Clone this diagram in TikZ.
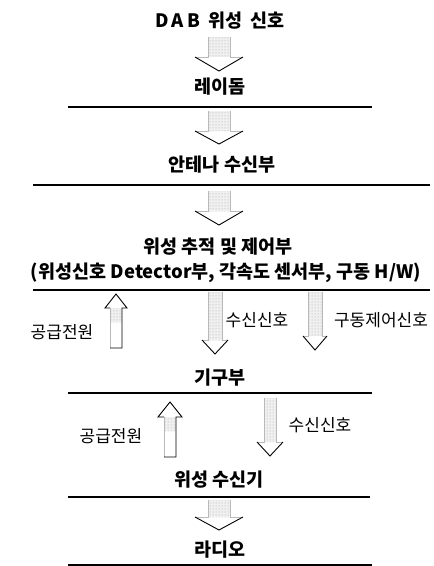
\documentclass[tikz,border=0pt]{standalone}
\usepackage{fontspec}
\setmainfont{Noto Sans CJK KR}
\usetikzlibrary{patterns}
\newcommand{\DnBlk}[7]{% name, cx, top, headtop, tip, shaft half width, head half width
  \coordinate (#1) at (#2,#5);
  \fill[gray!12] (#2-#6,#3) rectangle (#2+#6,#4);
  \fill[pattern=dots, pattern color=gray!70] (#2-#6,#3) rectangle (#2+#6,#4);
  \draw[blkfaint] (#2-#6,#3) -- (#2-#6,#4) -- (#2-#7,#4);
  \draw[blkfaint] (#2+#6,#3) -- (#2+#6,#4) -- (#2+#7,#4);
  \draw[blkedge] (#2-#7,#4) -- (#1) -- (#2+#7,#4);
}
\newcommand{\UpBlk}[7]{% name, cx, tip, headbase, bottom, shaft half width, head half width
  \coordinate (#1) at (#2,#3);
  \fill[gray!12] (#2-#6,#4) rectangle (#2+#6,#4+14);
  \fill[pattern=dots, pattern color=gray!70] (#2-#6,#4) rectangle (#2+#6,#4+14);
  \draw[blkfaint] (#2-#6,#4) -- (#2-#6,#5);
  \draw[blkedge] (#2-#6,#4) -- (#2-#7,#4) -- (#1) -- (#2+#7,#4) -- (#2+#6,#4) -- (#2+#6,#5) -- (#2-#6,#5);
}
\begin{document}
\begin{tikzpicture}[x=1pt,y=-1pt,
  head/.style={font=\fontsize{18.5}{21}\selectfont\bfseries, inner sep=0pt},
  lbl/.style={font=\fontsize{17}{20}\selectfont, inner sep=0pt},
  rule/.style={line width=1.1pt},
  blkfaint/.style={gray!55, line width=0.5pt},
  blkedge/.style={black, line width=0.9pt, line join=miter}]
\useasboundingbox (0,0) rectangle (434,566);
\fill[white] (0,0) rectangle (434,566);

% headings
\node[head] (dab) at (220,21) {D\,A\,B\hspace{0.45em}위성\hspace{0.45em}신호};
\node[head] (radome) at (220,87) {레이돔};
\node[head] (ant) at (222,165) {안테나 수신부};
\node[head] (track) at (218,247) {위성 추적 및 제어부};
\node[head] (track2) at (226,273) {(위성신호 Detector부, 각속도 센서부, 구동 H/W)};
\node[head] (mech) at (220,378) {기구부};
\node[head] (recv) at (219,480) {위성 수신기};
\node[head] (radio) at (220,550) {라디오};

% rules
\draw[rule] (68,107) coordinate (r1a) -- (372,107) coordinate (r1b);
\draw[rule] (33,185) coordinate (r2a) -- (430,185) coordinate (r2b);
\draw[rule] (33,290) coordinate (r3a) -- (430,290) coordinate (r3b);
\draw[rule] (68,393) coordinate (r4a) -- (372,393) coordinate (r4b);
\draw[rule] (68,497) coordinate (r5a) -- (370,497) coordinate (r5b);
\draw[rule] (68,565) coordinate (r6a) -- (372,565) coordinate (r6b);

% main down block arrows
\DnBlk{a1}{219}{37}{57}{71}{11}{24}
\DnBlk{a2}{219}{111}{131}{144}{11}{24}
\DnBlk{a3}{219}{191}{211}{225}{11}{24}
\DnBlk{a5}{219}{500}{517}{530}{11}{24}

% side arrows, upper
\UpBlk{p1}{116}{294}{308}{348}{6}{11}
\DnBlk{s1}{215}{292}{340}{354}{7}{13}
\DnBlk{c1}{315}{292}{336}{350}{7}{12}
\node[lbl] (pw1) at (62,332) {공급전원};
\node[lbl] (sig1) at (257,320) {수신신호};
\node[lbl] (ctl1) at (381,320) {구동제어신호};

% side arrows, lower
\UpBlk{p2}{170}{402}{417}{457}{6}{12}
\DnBlk{s2}{270}{398}{442}{456}{6}{13}
\node[lbl] (pw2) at (111,436) {공급전원};
\node[lbl] (sig2) at (320,425) {수신신호};
\end{tikzpicture}
\end{document}
